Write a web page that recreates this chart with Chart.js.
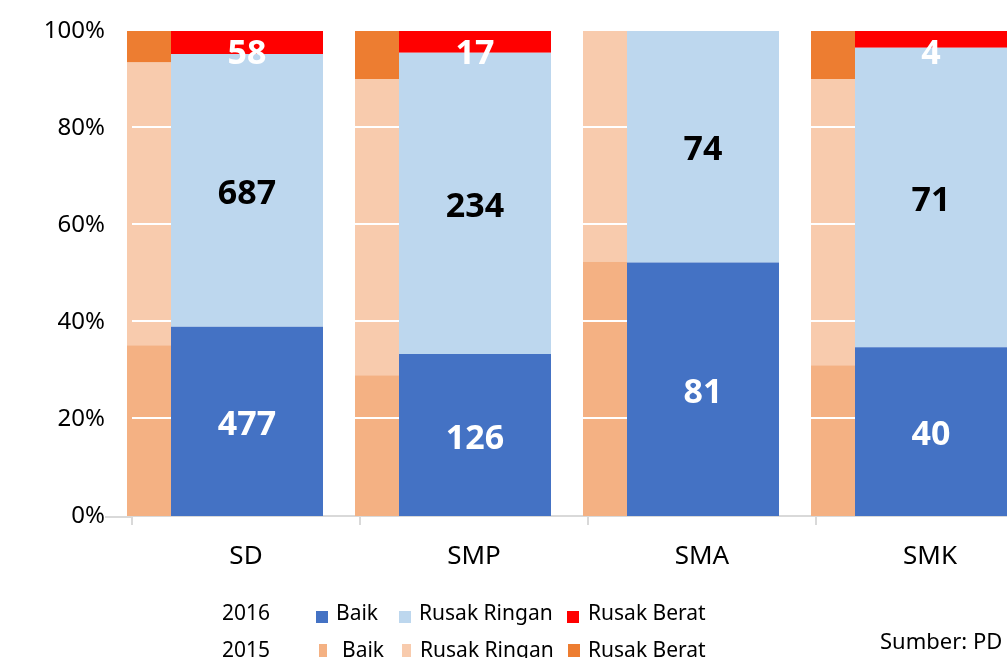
<!DOCTYPE html>
<html>
<head>
<meta charset="utf-8">
<script src="https://cdn.jsdelivr.net/npm/chart.js@4.4.0/dist/chart.umd.min.js"></script>
<style>
  html, body { margin: 0; padding: 0; background: #fff; overflow: hidden; }
  #wrap { position: relative; width: 1007px; height: 658px; overflow: hidden; font-family: 'Noto Sans', sans-serif; }
  #chart { position: absolute; left: 0; top: 0; }
  .lg { position: absolute; font-size: 21px; line-height: 21px; color: #000; white-space: nowrap; }
  .sw { position: absolute; }
</style>
</head>
<body>
<div id="wrap">
  <canvas id="chart" width="1060" height="658"></canvas>
  <div id="legend"></div>
  <div class="lg" style="left:880px; top:630px; font-size:22px;">Sumber: PD</div>
</div>
<script>
// categories
const categories = ['SD', 'SMP', 'SMA', 'SMK'];
const seriesNames = ['Baik', 'Rusak Ringan', 'Rusak Berat'];

// 2016: counts (shown as labels, drawn as share of total)
const baik2016 = [477, 126, 81, 40];
const ringan2016 = [687, 234, 74, 71];
const berat2016 = [58, 17, 0, 4];

// 2015: shares in percent
const baik2015 = [35.2, 29.0, 52.5, 31.1];
const ringan2015 = [58.3, 61.1, 47.5, 59.0];
const berat2015 = [6.5, 9.9, 0, 9.9];

const yTickValues = [0, 20, 40, 60, 80, 100];

const colors2016 = ['#4472C4', '#BDD7EE', '#FF0000'];
const colors2015 = ['#F4B183', '#F8CBAD', '#ED7D31'];
const labelColors = ['#ffffff', '#000000', '#ffffff'];

Chart.defaults.font.family = "'Noto Sans', sans-serif";
Chart.defaults.color = '#000';

const counts2016 = [baik2016, ringan2016, berat2016];
const totals2016 = categories.map((c, i) => baik2016[i] + ringan2016[i] + berat2016[i]);
const share = arr => arr.map((v, i) => v / totals2016[i] * 100);

// bar geometry, in px of one 228px category
const CAT = 228;
// 2015: visible strip 44px wide, centre 97px left of category centre
const cat15 = 4 * 97 / CAT;
const bar15 = 44 / (CAT * cat15 / 2);
// 2016: 152px wide, centre 1px right of category centre
const cat16 = 4 * 1 / CAT;
const bar16 = 152 / (CAT * cat16 / 2);

const datasets = [];
[baik2015, ringan2015, berat2015].forEach((d, k) => {
    datasets.push({
        label: seriesNames[k] + ' 2015',
        data: d,
        backgroundColor: colors2015[k],
        stack: 's2015',
        categoryPercentage: cat15,
        barPercentage: bar15,
        borderWidth: 0,
        clip: false
    });
});
[baik2016, ringan2016, berat2016].forEach((d, k) => {
    datasets.push({
        label: seriesNames[k] + ' 2016',
        data: share(d),
        backgroundColor: colors2016[k],
        stack: 's2016',
        categoryPercentage: cat16,
        barPercentage: bar16,
        borderWidth: 0,
        clip: false
    });
});

const overlay = {
    id: 'overlay',
    beforeDatasetsDraw(chart) {
        // axis line runs a little to the left of the plot
        const {ctx, chartArea} = chart;
        ctx.save();
        ctx.strokeStyle = '#d9d9d9';
        ctx.lineWidth = 2;
        ctx.beginPath();
        ctx.moveTo(105, chartArea.bottom + 1);
        ctx.lineTo(chartArea.left, chartArea.bottom + 1);
        ctx.stroke();
        ctx.restore();
    },
    afterDatasetsDraw(chart) {
        const {ctx, chartArea, scales} = chart;
        ctx.save();
        // white gridlines show only on the 2015 strips
        ctx.strokeStyle = '#ffffff';
        ctx.lineWidth = 2;
        chart.getDatasetMeta(0).data.forEach(bar => {
            const left = Math.max(chartArea.left, bar.x - bar.width / 2);
            const right = bar.x + bar.width / 2;
            yTickValues.forEach(t => {
                if (t === 0) return;
                const py = Math.round(scales.y.getPixelForValue(t));
                ctx.beginPath();
                ctx.moveTo(left, py - 1);
                ctx.lineTo(right, py - 1);
                ctx.stroke();
            });
        });
        // value labels on the 2016 bars
        ctx.font = "bold 34px 'Noto Sans', sans-serif";
        ctx.textAlign = 'center';
        ctx.textBaseline = 'middle';
        [3, 4, 5].forEach((di, k) => {
            chart.getDatasetMeta(di).data.forEach((bar, i) => {
                const n = counts2016[k][i];
                if (!n) return;
                const cy = Math.max((bar.y + bar.base) / 2, chartArea.top + 19);
                ctx.fillStyle = labelColors[k];
                ctx.fillText(String(n), bar.x, cy + 4);
            });
        });
        ctx.restore();
    }
};

const chart = new Chart(document.getElementById('chart').getContext('2d'), {
    type: 'bar',
    data: { labels: categories, datasets: datasets },
    options: {
        responsive: false,
        animation: false,
        layout: { padding: { top: 31, right: 16, left: 0, bottom: 0 } },
        plugins: {
            legend: { display: false },
            tooltip: { enabled: false }
        },
        scales: {
            x: {
                stacked: true,
                offset: true,
                grid: {
                    offset: true,
                    drawOnChartArea: false,
                    tickLength: 9,
                    color: '#d9d9d9',
                    lineWidth: 2
                },
                border: { color: '#d9d9d9', width: 2 },
                ticks: { font: { size: 26 }, color: '#000', padding: 16 },
                afterFit: s => { s.height = 142; }
            },
            y: {
                stacked: true,
                min: 0,
                max: 100,
                grid: { display: false, drawTicks: false },
                border: { display: false },
                ticks: {
                    stepSize: 20,
                    font: { size: 24 },
                    color: '#000',
                    padding: 27,
                    callback: v => v + '%'
                },
                afterFit: s => {
                    s.width = 132;
                    s.paddingTop = 0;
                    s.paddingBottom = 0;
                }
            }
        }
    },
    plugins: [overlay]
});

// legend: two rows, one per year
function buildLegend() {
    const box = document.getElementById('legend');
    const rows = [
        { year: '2016', top: 602, colors: colors2016, sw: [[316, 611, 12, 12], [399, 611, 12, 12], [567, 611, 12, 12]], tx: [336, 419, 588] },
        { year: '2015', top: 639, colors: colors2015, sw: [[319, 644, 8, 13], [402, 644, 9, 13], [568, 644, 12, 13]], tx: [342, 420, 588] }
    ];
    let html = '';
    rows.forEach(r => {
        html += `<div class="lg" style="left:222px; top:${r.top}px;">${r.year}</div>`;
        seriesNames.forEach((name, k) => {
            const s = r.sw[k];
            html += `<div class="sw" style="left:${s[0]}px; top:${s[1]}px; width:${s[2]}px; height:${s[3]}px; background:${r.colors[k]};"></div>`;
            html += `<div class="lg" style="left:${r.tx[k]}px; top:${r.top}px;">${name}</div>`;
        });
    });
    box.innerHTML = html;
}
buildLegend();
</script>
</body>
</html>
